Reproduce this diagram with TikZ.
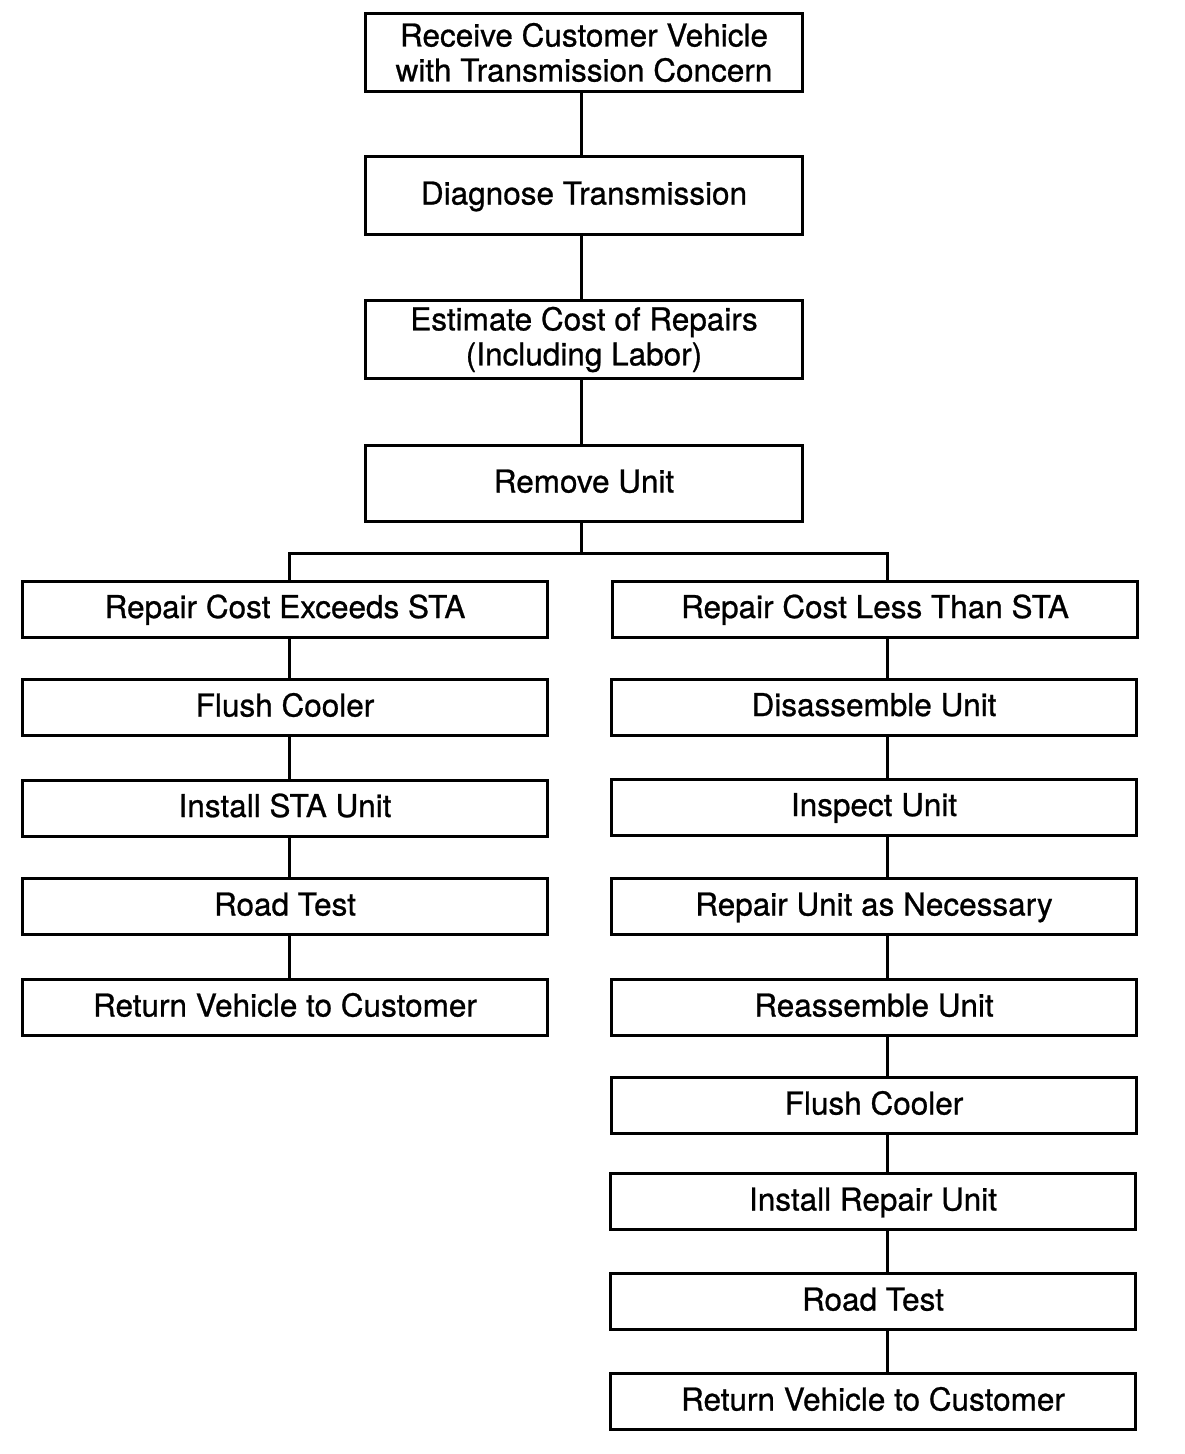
\documentclass[tikz,border=0pt]{standalone}
\usepackage{fontspec}
\setmainfont{TeX Gyre Heros}[FakeBold=0.8]
\begin{document}
\begin{tikzpicture}[x=1pt,y=-1pt,
  box/.style={draw=black, line width=3pt, fill=white, inner sep=0pt, align=center,
    font=\fontsize{31.5}{35}\selectfont},
  topbox/.style={box, minimum width=437pt, minimum height=78pt},
  onerow/.style={text height=23pt, text depth=5pt},
  colbox/.style={box, onerow, minimum width=525pt, minimum height=56pt},
  link/.style={line width=3pt}]
\useasboundingbox (0,0) rectangle (1184,1454);
% top column
\node[topbox] (b1) at (584,52.5) {Receive Customer Vehicle\\with Transmission Concern};
\node[topbox, onerow] (b2) at (584,195.5) {Diagnose Transmission};
\node[topbox] (b3) at (584,339.5) {Estimate Cost of Repairs\\(Including Labor)};
\node[topbox, onerow, minimum height=76pt] (b4) at (584,483.5) {Remove Unit};
% left column
\node[colbox] (l1) at (285,609) {Repair Cost Exceeds STA};
\node[colbox] (l2) at (285,707.5) {Flush Cooler};
\node[colbox] (l3) at (285,808) {Install STA Unit};
\node[colbox] (l4) at (285,906.5) {Road Test};
\node[colbox] (l5) at (285,1007.5) {Return Vehicle to Customer};
% right column
\node[colbox] (r1) at (875,609) {Repair Cost Less Than STA};
\node[colbox] (r2) at (874,707) {Disassemble Unit};
\node[colbox] (r3) at (874,807) {Inspect Unit};
\node[colbox] (r4) at (874,906.5) {Repair Unit as Necessary};
\node[colbox] (r5) at (874,1007.5) {Reassemble Unit};
\node[colbox] (r6) at (874,1105.5) {Flush Cooler};
\node[colbox] (r7) at (873,1201.5) {Install Repair Unit};
\node[colbox] (r8) at (873,1301.5) {Road Test};
\node[colbox] (r9) at (873,1401.5) {Return Vehicle to Customer};
% trunk coordinates
\coordinate (tx) at (581,0);
\coordinate (lx) at (289,0);
\coordinate (rx) at (887,0);
\coordinate (split) at (581,553);
\coordinate (splitL) at (289,553);
\coordinate (splitR) at (887,553);
% connectors
\draw[link] (b1.south -| tx) -- (b2.north -| tx);
\draw[link] (b2.south -| tx) -- (b3.north -| tx);
\draw[link] (b3.south -| tx) -- (b4.north -| tx);
\draw[link] (b4.south -| tx) -- (split);
\draw[link, line cap=rect] (splitL) -- (splitR);
\draw[link] (splitL) -- (l1.north -| lx);
\draw[link] (splitR) -- (r1.north -| rx);
\foreach \a/\b in {l1/l2,l2/l3,l3/l4,l4/l5}
  \draw[link] (\a.south -| lx) -- (\b.north -| lx);
\foreach \a/\b in {r1/r2,r2/r3,r3/r4,r4/r5,r5/r6,r6/r7,r7/r8,r8/r9}
  \draw[link] (\a.south -| rx) -- (\b.north -| rx);
\end{tikzpicture}
\end{document}
